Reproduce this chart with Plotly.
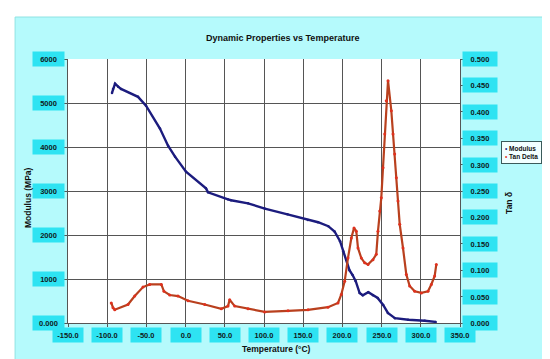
import plotly.graph_objects as go

# ---- data ----
temp_mod = [-93.9, -92.6, -90.0, -86.0, -82.4, -60.7, -50.5, -32.7, -22.4, -13.5, 0.5, 26.0, 28.6,
            54.0, 58.0, 79.6, 101.0, 130.0, 156.0, 169.0, 182.0, 190.0, 197.0, 201.0, 205.0, 209.0,
            213.0, 217.0, 222.0, 226.0, 233.0, 239.0, 245.0, 252.0, 258.0, 267.0, 284.0, 305.0, 319.0]
modulus = [5230, 5320, 5440, 5370, 5320, 5140, 4940, 4420, 4030, 3780, 3440, 3060, 2970,
           2810, 2790, 2720, 2600, 2470, 2340, 2290, 2200, 2080, 1860, 1630, 1430, 1200,
           1090, 950, 680, 630, 700, 630, 570, 410, 230, 110, 75, 50, 25]

temp_tan = [-94.8, -92.6, -90.4, -73.5, -64.9, -54.3, -45.8, -31.0, -27.6, -20.3, -9.7, 3.1, 24.4,
            45.5, 54.1, 56.2, 62.6, 79.6, 100.9, 130.6, 156.1, 181.6, 194.4, 198.6, 202.9, 207.1,
            211.4, 214.8, 217.7, 219.9, 224.1, 228.4, 232.7, 239.0, 243.2, 245.4, 247.6, 249.6,
            251.8, 254.0, 256.0, 258.2, 262.4, 264.5, 266.7, 268.8, 270.9, 273.1, 277.3, 281.5,
            285.8, 292.2, 300.7, 309.2, 313.4, 317.7, 319.8]
tan_delta = [0.038, 0.029, 0.025, 0.035, 0.051, 0.068, 0.073, 0.073, 0.060, 0.053, 0.051, 0.042, 0.035,
             0.027, 0.032, 0.044, 0.032, 0.027, 0.021, 0.023, 0.025, 0.030, 0.038, 0.054, 0.079, 0.123,
             0.161, 0.180, 0.174, 0.142, 0.123, 0.114, 0.111, 0.120, 0.130, 0.174, 0.212, 0.237,
             0.294, 0.358, 0.421, 0.459, 0.402, 0.358, 0.320, 0.275, 0.231, 0.187, 0.142, 0.092,
             0.070, 0.060, 0.057, 0.060, 0.073, 0.089, 0.111]

x_ticks = [-150, -100, -50, 0, 50, 100, 150, 200, 250, 300, 350]
x_tick_labels = ["-150.0", "-100.0", "-50.0", "0.0", "50.0", "100.0", "150.0", "200.0", "250.0", "300.0", "350.0"]
y_ticks = [0, 1000, 2000, 3000, 4000, 5000, 6000]
y_tick_labels = ["0.000", "1000", "2000", "3000", "4000", "5000", "6000"]
y2_ticks = [0, 0.05, 0.10, 0.15, 0.20, 0.25, 0.30, 0.35, 0.40, 0.45, 0.50]
y2_tick_labels = ["0.000", "0.050", "0.100", "0.150", "0.200", "0.250", "0.300", "0.350", "0.400", "0.450", "0.500"]
series_names = ["Modulus", "Tan Delta"]

NAVY = "#1c1c7e"
RED = "#b9401e"
RED_MK = "#e0301e"
BG = "#b5fafc"
BOX = "#2ee3f2"
FONT = "Liberation Sans, Arial, sans-serif"

fig = go.Figure()
fig.add_trace(go.Scatter(x=temp_mod, y=modulus, name=series_names[0], mode="lines+markers",
                         line=dict(color=NAVY, width=2.4), marker=dict(color=NAVY, size=2.5),
                         yaxis="y", showlegend=False))
fig.add_trace(go.Scatter(x=temp_tan, y=tan_delta, name=series_names[1], mode="lines+markers",
                         line=dict(color=RED, width=2.2), marker=dict(color=RED_MK, size=3),
                         yaxis="y2", showlegend=False))

annotations = []
lab_font = dict(family=FONT, size=7.5, color="#102020")
for v, t in zip(x_ticks, x_tick_labels):
    annotations.append(dict(x=v, y=-0.047, xref="x", yref="paper", text="<b>" + t + "</b>",
                            showarrow=False, bgcolor=BOX, font=lab_font, width=28, height=12,
                            borderpad=1, xanchor="center", yanchor="middle"))
for v, t in zip(y_ticks, y_tick_labels):
    annotations.append(dict(x=-0.051, y=v, xref="paper", yref="y", text="<b>" + t + "</b>",
                            showarrow=False, bgcolor=BOX, font=lab_font, width=29, height=12,
                            borderpad=1, xanchor="center", yanchor="middle"))
for v, t in zip(y2_ticks, y2_tick_labels):
    annotations.append(dict(x=1.051, y=v, xref="paper", yref="y2", text="<b>" + t + "</b>",
                            showarrow=False, bgcolor=BOX, font=lab_font, width=32, height=12,
                            borderpad=1, xanchor="center", yanchor="middle"))

annotations += [
    dict(x=0.546, y=1.106, xref="paper", yref="paper", text="<b>Dynamic Properties vs Temperature</b>",
         showarrow=False, font=dict(family=FONT, size=9, color="#101010")),
    dict(x=0.533, y=-0.1235, xref="paper", yref="paper", text="<b>Temperature (°C)</b>",
         showarrow=False, font=dict(family=FONT, size=8.5, color="#101010")),
    dict(x=-0.12, y=0.477, xref="paper", yref="paper", text="<b>Modulus (MPa)</b>", textangle=-90,
         showarrow=False, font=dict(family=FONT, size=8.5, color="#101010")),
    dict(x=1.143, y=0.455, xref="paper", yref="paper", text="<b>Tan δ</b>", textangle=-90,
         showarrow=False, font=dict(family=FONT, size=8.5, color="#101010")),
    # legend box
    dict(x=1.105, y=0.69, xref="paper", yref="paper", xanchor="left", yanchor="top", align="left",
         text=("<span style='color:%s'>•</span> <b>%s</b><br><span style='color:%s'>•</span> <b>%s</b>"
               % (NAVY, series_names[0], RED_MK, series_names[1])),
         showarrow=False, bgcolor="#f2ffff", bordercolor="#3a5a5a", borderwidth=1, borderpad=3,
         font=dict(family=FONT, size=6.5, color="#101010")),
]

shapes = [
    dict(type="rect", xref="paper", yref="paper", x0=-0.135, x1=1.232, y0=-0.144, y1=1.159,
         fillcolor=BG, line=dict(color="#8fe3e3", width=1), layer="below"),
    dict(type="rect", xref="paper", yref="paper", x0=0, x1=1, y0=0, y1=1,
         fillcolor="white", line=dict(width=0), layer="below"),
]

fig.update_layout(
    width=550, height=359,
    margin=dict(l=60, r=98, t=51, b=44),
    paper_bgcolor="white", plot_bgcolor="white",
    font=dict(family=FONT, size=8, color="#101010"),
    showlegend=False,
    xaxis=dict(range=[-150, 350], tickvals=x_ticks, showticklabels=False, showgrid=True,
               gridcolor="#555555", gridwidth=1, showline=True, linecolor="#555555",
               ticks="outside", ticklen=3, tickcolor="#555555", zeroline=False),
    yaxis=dict(range=[0, 6000], tickvals=y_ticks, showticklabels=False, showgrid=True,
               gridcolor="#555555", gridwidth=1, showline=True, linecolor="#555555",
               ticks="outside", ticklen=4, tickcolor="#555555", zeroline=False),
    yaxis2=dict(range=[0, 0.5], tickvals=y2_ticks, showticklabels=False, showgrid=False,
                overlaying="y", side="right", showline=True, linecolor="#555555",
                ticks="outside", ticklen=3, tickcolor="#555555", zeroline=False),
    annotations=annotations,
    shapes=shapes,
)

fig.write_html("out.html")
